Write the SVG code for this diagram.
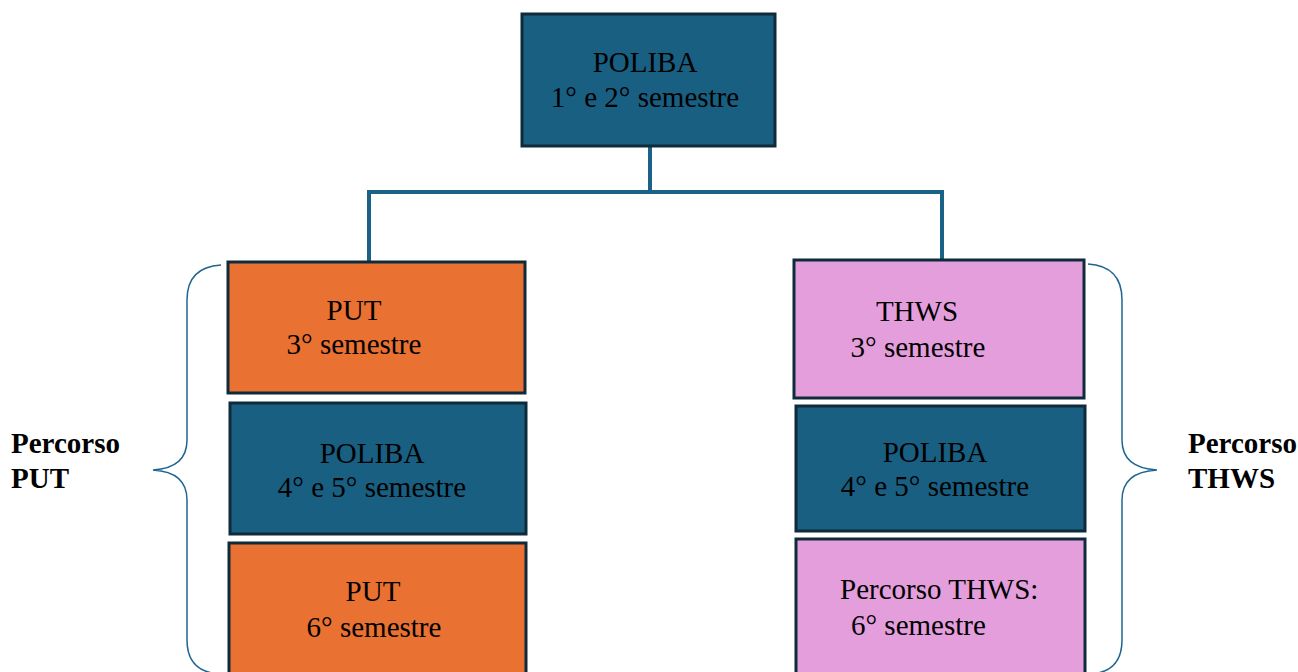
<svg xmlns="http://www.w3.org/2000/svg" width="1298" height="672" viewBox="0 0 1298 672">
<style>
.box{stroke:#0E2A3B;stroke-width:3}
.blue{fill:#185F82}
.orange{fill:#E97132}
.pink{fill:#E49EDC}
.t{font-family:"Liberation Serif",serif;font-size:29px;fill:#000}
.m{text-anchor:middle}
.lbl{font-family:"Liberation Serif",serif;font-size:29px;font-weight:bold;fill:#000}
.conn{fill:none;stroke:#1A6288;stroke-width:4}
.brace{fill:none;stroke:#1E6690;stroke-width:1.5}
</style>
<rect width="1298" height="672" fill="#fff"/>
<g id="connectors">
<path class="conn" d="M650 147 V192 M369 192 H942 M369 190 V261 M942 190 V259"/>
</g>
<g id="brace-left">
<path class="brace" d="M221 265 Q187 267 187 300 V440 Q187 468 153 470 Q187 472 187 500 V640 Q187 668 212 673"/>
</g>
<g id="brace-right">
<path class="brace" d="M1088 264 Q1122 266 1122 300 V440 Q1122 468 1157 470 Q1122 472 1122 500 V640 Q1122 668 1098 673"/>
</g>
<g id="poliba-top">
<rect class="box blue" x="522" y="14" width="253" height="132"/>
<text class="t m" x="645" y="72">POLIBA</text>
<text class="t m" x="645" y="107">1° e 2° semestre</text>
</g>
<g id="put-3">
<rect class="box orange" x="228" y="262" width="297" height="131"/>
<text class="t m" x="354" y="320">PUT</text>
<text class="t m" x="354" y="354">3° semestre</text>
</g>
<g id="poliba-left">
<rect class="box blue" x="230" y="403" width="296" height="131"/>
<text class="t m" x="372" y="463">POLIBA</text>
<text class="t m" x="372" y="497">4° e 5° semestre</text>
</g>
<g id="put-6">
<rect class="box orange" x="229" y="543" width="297" height="135"/>
<text class="t m" x="373" y="601">PUT</text>
<text class="t m" x="374" y="637">6° semestre</text>
</g>
<g id="thws-3">
<rect class="box pink" x="794" y="260" width="290" height="138"/>
<text class="t m" x="917" y="321">THWS</text>
<text class="t m" x="918" y="357">3° semestre</text>
</g>
<g id="poliba-right">
<rect class="box blue" x="796" y="406" width="289" height="125"/>
<text class="t m" x="935" y="462">POLIBA</text>
<text class="t m" x="935" y="496">4° e 5° semestre</text>
</g>
<g id="thws-6">
<rect class="box pink" x="796" y="539" width="289" height="140"/>
<text class="t" x="840" y="599">Percorso THWS:</text>
<text class="t" x="851" y="635">6° semestre</text>
</g>
<g id="label-put">
<text class="lbl" x="11" y="453">Percorso</text>
<text class="lbl" x="11" y="488">PUT</text>
</g>
<g id="label-thws">
<text class="lbl" x="1188" y="453">Percorso</text>
<text class="lbl" x="1188" y="488">THWS</text>
</g>
</svg>
